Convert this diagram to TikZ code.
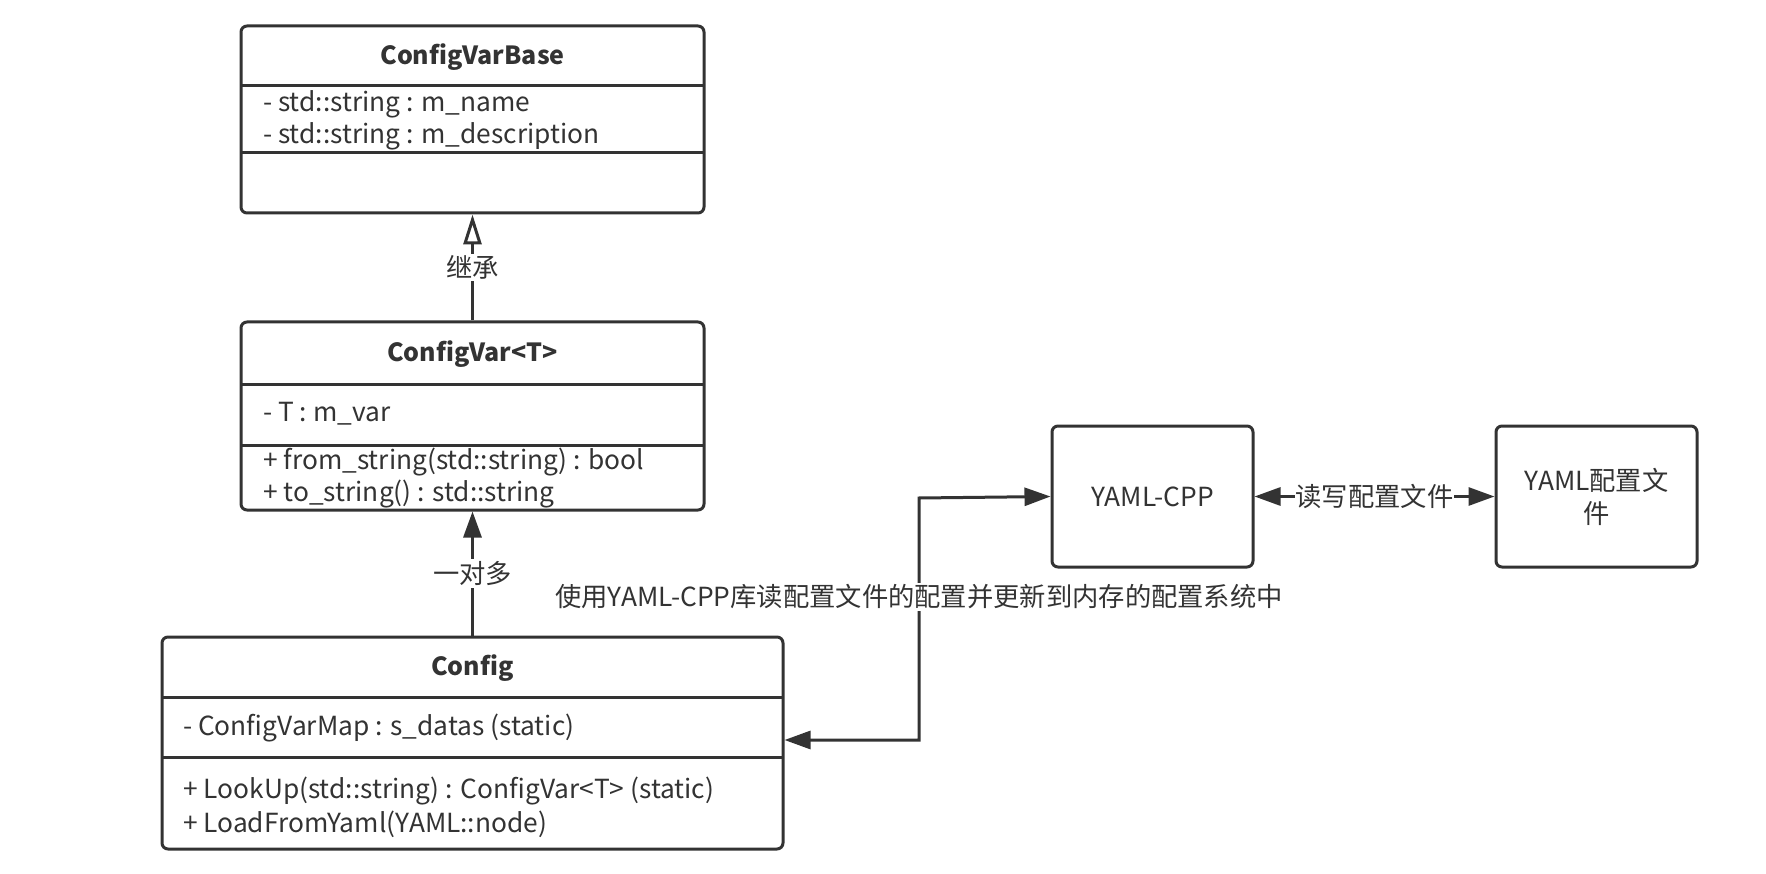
\documentclass[tikz,border=0pt]{standalone}
\usepackage{fontspec}
\setmainfont{Noto Sans CJK SC}
\usetikzlibrary{arrows.meta}
\definecolor{ink}{HTML}{333333}
\tikzset{
  umlbox/.style={draw=ink, line width=3pt, rounded corners=6pt, inner sep=0pt, fill=white},
  divider/.style={draw=ink, line width=3pt},
  ttl/.style={font=\fontsize{25}{30}\selectfont\bfseries, text=ink},
  mem/.style={font=\fontsize{26.3}{30}\selectfont, text=ink, anchor=west, inner sep=0pt},
  plain/.style={font=\fontsize{26.3}{33}\selectfont, text=ink, align=center},
  lbl/.style={font=\fontsize{26.3}{30}\selectfont, text=ink, fill=white, inner sep=2pt},
  conn/.style={draw=ink, line width=3pt},
  solidhead/.style={-{Triangle[length=26pt,width=18pt]}},
  openhead/.style={-{Triangle[open,length=30pt,width=18pt,line width=3pt]}},
}
\begin{document}
\begin{tikzpicture}[x=1pt,y=-1pt]
\useasboundingbox (0,0) rectangle (1766,874);
% ConfigVarBase
\node[umlbox, minimum width=463pt, minimum height=187pt] (cvb) at (472.5,119.5) {};
\draw[divider] (241,86) -- (704,86);
\draw[divider] (241,153) -- (704,153);
\node[ttl] (cvbt) at (472.5,57) {ConfigVarBase};
\node[mem] (cvba) at (263,104) {- std::string : m\_name};
\node[mem] (cvbb) at (263,136) {- std::string : m\_description};
% ConfigVar<T>
\node[umlbox, minimum width=463pt, minimum height=188pt] (cv) at (472.5,416) {};
\draw[divider] (241,384) -- (704,384);
\draw[divider] (241,445) -- (704,445);
\node[ttl] (cvt) at (472.5,354) {ConfigVar<T>};
\node[mem] (cva) at (263,414) {- T : m\_var};
\node[mem] (cvm1) at (263,462) {+ from\_string(std::string) : bool};
\node[mem] (cvm2) at (263,494) {+ to\_string() : std::string};
% Config
\node[umlbox, minimum width=621pt, minimum height=212pt] (cfg) at (472.5,743) {};
\draw[divider] (162,697) -- (783,697);
\draw[divider] (162,757) -- (783,757);
\node[ttl] (cfgt) at (472.5,668) {Config};
\node[mem] (cfga) at (183,728) {- ConfigVarMap : s\_datas (static)};
\node[mem] (cfgm1) at (183,791) {+ LookUp(std::string) : ConfigVar<T> (static)};
\node[mem] (cfgm2) at (183,824) {+ LoadFromYaml(YAML::node)};
% YAML-CPP and file
\node[umlbox, minimum width=201pt, minimum height=141pt, plain] (yc) at (1152.5,496.5) {YAML-CPP};
\node[umlbox, minimum width=201pt, minimum height=141pt, plain, text width=175pt] (yf) at (1596.5,496.5) {YAML配置文\\件};
% connectors
\draw[conn, openhead] (cv.north) -- (cvb.south) node[lbl, midway] (l1) {继承};
\draw[conn, solidhead] (cfg.north) -- (cv.south) node[lbl, midway] (l2) {一对多};
\coordinate (cfgp) at (cfg.east |- 0,740);
\coordinate (bend) at (919,498);
\draw[conn, {Triangle[length=26pt,width=18pt]}-{Triangle[length=26pt,width=18pt]}] (cfgp) -| (bend) -- (yc.west);
\node[lbl] (l3) at (919,597) {使用YAML-CPP库读配置文件的配置并更新到内存的配置系统中};
\draw[conn, {Triangle[length=26pt,width=18pt]}-{Triangle[length=26pt,width=18pt]}] (yc.east) -- (yf.west) node[lbl, midway, inner sep=1pt] (l4) {读写配置文件};
\end{tikzpicture}
\end{document}
